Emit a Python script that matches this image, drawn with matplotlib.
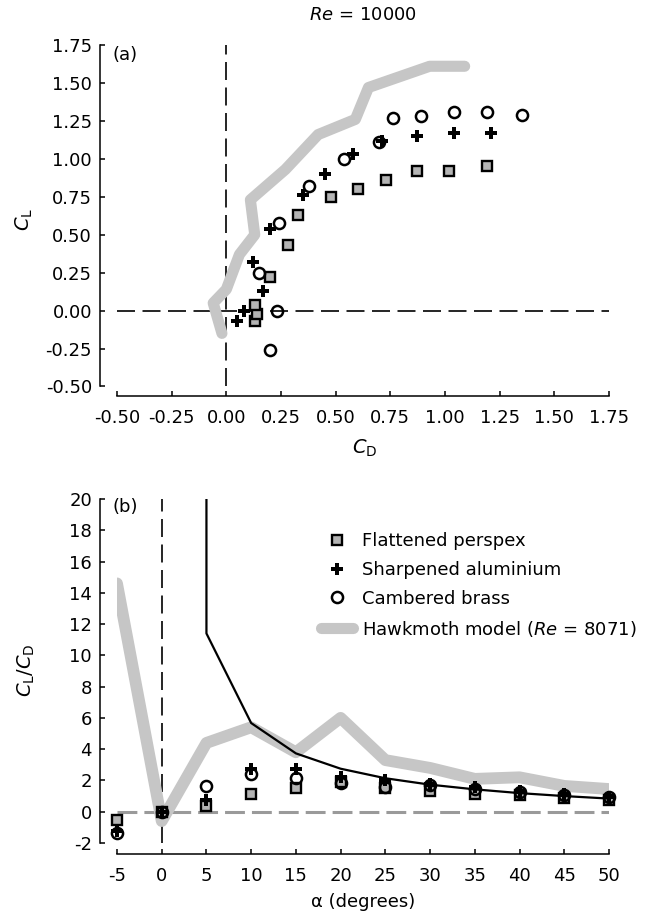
import matplotlib
matplotlib.use('Agg')
import matplotlib.pyplot as plt
from matplotlib.lines import Line2D

# ---- data, ordered by angle of attack ----
alpha = [-5, 0, 5, 10, 15, 20, 25, 30, 35, 40, 45, 50]

# (a) polar: C_D vs C_L
per_cd = [0.13, 0.14, 0.13, 0.20, 0.28, 0.33, 0.48, 0.60, 0.73, 0.87, 1.02, 1.19]
per_cl = [-0.07, -0.02, 0.04, 0.22, 0.43, 0.63, 0.75, 0.80, 0.86, 0.92, 0.92, 0.95]
alu_cd = [0.05, 0.08, 0.17, 0.12, 0.20, 0.35, 0.45, 0.58, 0.71, 0.87, 1.04, 1.21]
alu_cl = [-0.07, 0.00, 0.13, 0.32, 0.54, 0.76, 0.90, 1.03, 1.12, 1.15, 1.17, 1.17]
brass_cd = [0.20, 0.23, 0.15, 0.24, 0.38, 0.54, 0.70, 0.76, 0.89, 1.04, 1.19, 1.35]
brass_cl = [-0.26, 0.00, 0.25, 0.58, 0.82, 1.00, 1.11, 1.27, 1.28, 1.31, 1.31, 1.29]
hawk_cd = [-0.02, -0.06, 0.00, 0.06, 0.13, 0.11, 0.27, 0.42, 0.59, 0.65, 0.93, 1.09]
hawk_cl = [-0.15, 0.05, 0.14, 0.37, 0.50, 0.73, 0.93, 1.16, 1.26, 1.47, 1.61, 1.61]

# (b) lift-to-drag ratio vs alpha
per_ratio = [-0.5, 0.0, 0.35, 1.13, 1.52, 1.88, 1.54, 1.32, 1.15, 1.05, 0.88, 0.78]
alu_ratio = [-1.25, 0.0, 0.75, 2.75, 2.7, 2.2, 2.0, 1.8, 1.58, 1.33, 1.13, 0.97]
brass_ratio = [-1.35, 0.0, 1.65, 2.43, 2.15, 1.85, 1.6, 1.68, 1.44, 1.26, 1.1, 0.96]
hawk_ratio = [14.6, -0.6, 4.4, 5.4, 3.8, 6.0, 3.3, 2.8, 2.1, 2.2, 1.65, 1.45]
flat_alpha = [5, 5, 10, 15, 20, 25, 30, 35, 40, 45, 50]
flat_ratio = [20, 11.4, 5.67, 3.73, 2.75, 2.14, 1.73, 1.43, 1.19, 1.0, 0.84]

cd_ticks = [-0.5, -0.25, 0, 0.25, 0.5, 0.75, 1.0, 1.25, 1.5, 1.75]
cl_ticks = [-0.5, -0.25, 0, 0.25, 0.5, 0.75, 1.0, 1.25, 1.5, 1.75]
alpha_ticks = [-5, 0, 5, 10, 15, 20, 25, 30, 35, 40, 45, 50]
ratio_ticks = [-2, 0, 2, 4, 6, 8, 10, 12, 14, 16, 18, 20]

# ---- style ----
plt.rcParams['font.family'] = ['DejaVu Sans']
plt.rcParams['font.size'] = 13
plt.rcParams['axes.unicode_minus'] = False
plt.rcParams['mathtext.fontset'] = 'dejavusans'

hawk_col = '#c6c6c6'
sq_fill = '#b4b4b4'
dash = (0, (10.8, 4.5))
sq_style = dict(marker='s', ms=7.8, mfc=sq_fill, mec='k', mew=1.7)
plus_style = dict(marker='P', ms=9, color='k', mew=0)
circ_style = dict(marker='o', ms=8, mfc='none', mec='k', mew=1.8)


def style_axes(ax, xlim, ylim, xticks, yticks, xfmt, yfmt, bottom_off):
    ax.set_xlim(xlim)
    ax.set_ylim(ylim)
    ax.set_xticks(xticks)
    ax.set_yticks(yticks)
    ax.set_xticklabels([xfmt % v for v in xticks])
    ax.set_yticklabels([yfmt % v for v in yticks])
    ax.spines['top'].set_visible(False)
    ax.spines['right'].set_visible(False)
    ax.spines['left'].set_position(('outward', 12))
    ax.spines['bottom'].set_position(('outward', bottom_off))
    ax.spines['left'].set_bounds(ylim)
    ax.spines['bottom'].set_bounds(xlim)
    for s in ['left', 'bottom']:
        ax.spines[s].set_linewidth(1.1)
    ax.tick_params(direction='in', length=3.6, width=1.1, labelsize=13)
    ax.tick_params(axis='x', pad=9)
    ax.tick_params(axis='y', pad=6)


fig = plt.figure(figsize=(6.58, 9.15), dpi=100)
ax1 = fig.add_axes([0.1778, 0.5776, 0.7477, 0.3732])
ax2 = fig.add_axes([0.1778, 0.0787, 0.7477, 0.3760])

# ---- (a) ----
style_axes(ax1, (-0.5, 1.75), (-0.5, 1.75), cd_ticks, cl_ticks, '%.2f', '%.2f', 7.2)
ax1.axvline(0, color='k', lw=1.2, ls=dash, zorder=0)
ax1.axhline(0, color='k', lw=1.2, ls=dash, zorder=0)
ax1.plot(hawk_cd, hawk_cl, color=hawk_col, lw=8, solid_capstyle='round',
         solid_joinstyle='round', zorder=1)
ax1.plot(per_cd, per_cl, ls='none', clip_on=False, zorder=3, **sq_style)
ax1.plot(alu_cd, alu_cl, ls='none', clip_on=False, zorder=3, **plus_style)
ax1.plot(brass_cd, brass_cl, ls='none', clip_on=False, zorder=3, **circ_style)

ax1.set_xlabel(r'$C_\mathrm{D}$', fontsize=14)
ax1.set_ylabel(r'$C_\mathrm{L}$', fontsize=14)
ax1.xaxis.set_label_coords(0.504, -0.15)
ax1.yaxis.set_label_coords(-0.167, 0.49)
ax1.text(0.5, 1.088, r'$\mathit{Re}$ = 10000', transform=ax1.transAxes,
         ha='center', va='center', fontsize=13)
ax1.text(-0.01, 0.971, '(a)', transform=ax1.transAxes, ha='left', va='center', fontsize=13)

# ---- (b) ----
style_axes(ax2, (-5, 50), (-2, 20), alpha_ticks, ratio_ticks, '%d', '%d', 8)
ax2.axvline(0, color='k', lw=1.2, ls=dash, zorder=0)
ax2.axhline(0, color='#9a9a9a', lw=2.2, ls=(0, (6.5, 2.3)), zorder=0)
ax2.plot(alpha, hawk_ratio, color=hawk_col, lw=8.5, solid_capstyle='round',
         solid_joinstyle='round', zorder=1)
ax2.plot(alpha, per_ratio, ls='none', clip_on=False, zorder=3, **sq_style)
ax2.plot(alpha, alu_ratio, ls='none', clip_on=False, zorder=3, **plus_style)
ax2.plot(alpha, brass_ratio, ls='none', clip_on=False, zorder=3, **circ_style)
ax2.plot(flat_alpha, flat_ratio, color='k', lw=1.6, zorder=4)

ax2.set_xlabel('\u03b1 (degrees)', fontsize=13)
ax2.set_ylabel(r'$C_\mathrm{L}/C_\mathrm{D}$', fontsize=14)
ax2.xaxis.set_label_coords(0.5, -0.145)
ax2.yaxis.set_label_coords(-0.163, 0.503)
ax2.text(-0.01, 0.977, '(b)', transform=ax2.transAxes, ha='left', va='center', fontsize=13)

# legend
handles = [
    Line2D([], [], ls='none', **sq_style),
    Line2D([], [], ls='none', **plus_style),
    Line2D([], [], ls='none', **circ_style),
    Line2D([], [], color=hawk_col, lw=8, solid_capstyle='round'),
]
labels = ['Flattened perspex', 'Sharpened aluminium', 'Cambered brass',
          r'Hawkmoth model ($\mathit{Re}$ = 8071)']
l = fig.legend(handles, labels, loc='upper left', bbox_to_anchor=(0.4878, 0.4185),
               frameon=False, fontsize=13, handlelength=1.75, handletextpad=0.5,
               borderpad=0, borderaxespad=0, labelspacing=0.6)

plt.savefig('out.png', dpi=100)
